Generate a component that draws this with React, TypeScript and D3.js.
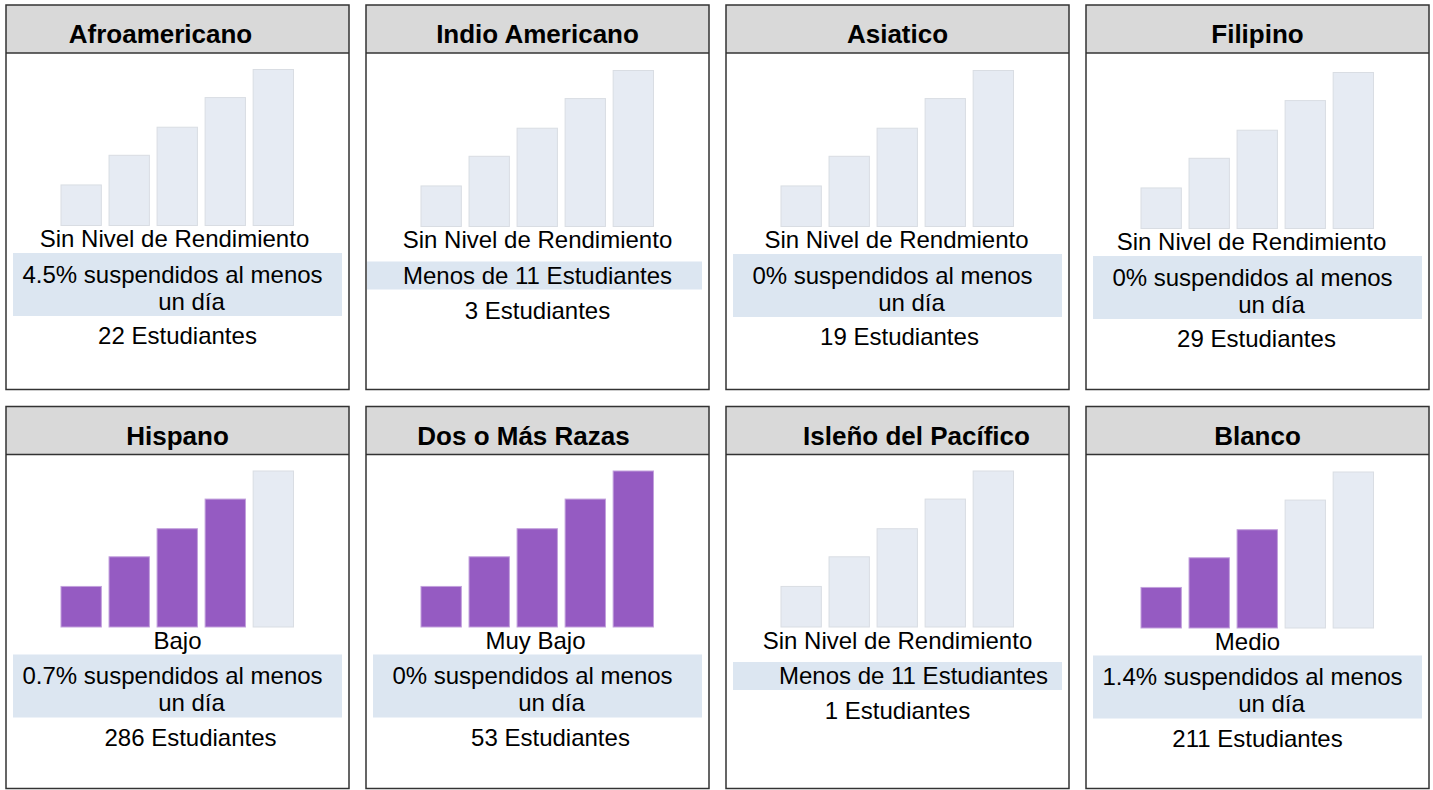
import React from 'react';
import * as d3 from 'd3';

// groups, in reading order (4 per row)
const groups = [
  "Afroamericano",
  "Indio Americano",
  "Asiatico",
  "Filipino",
  "Hispano",
  "Dos o Más Razas",
  "Isleño del Pacífico",
  "Blanco",
];

// the five performance levels drawn as rising bars
const levels = ["Muy Bajo", "Bajo", "Medio", "Alto", "Muy Alto"];
const levelBarHeights = [26, 45, 63, 82, 100];

// how many bars are filled for each group (0 = no level)
const filledBars = [0, 0, 0, 0, 4, 5, 0, 3];
const levelLabels = [
  "Sin Nivel de Rendimiento",
  "Sin Nivel de Rendimiento",
  "Sin Nivel de Rendmiento",
  "Sin Nivel de Rendimiento",
  "Bajo",
  "Muy Bajo",
  "Sin Nivel de Rendimiento",
  "Medio",
];
// null -> fewer than 11 students, no rate shown
const suspendedPct: (string | null)[] = ["4.5%", null, "0%", "0%", "0.7%", "0%", null, "1.4%"];
const studentCounts = [22, 3, 19, 29, 286, 53, 1, 211];

// small per-panel nudges, as in the original layout
const titleShift = [-17, 0, 0, 0, 0, -14, 19, 0];
const levelShift = [-3, 0, -1, -6, 0, -2, 0, -10];
const countShift = [0, 0, 2, -1, 13, 13, 0, 0];
const menosShift = [0, 0, 0, 0, 0, 0, 16, 0];
const bandLeftInset = [7, 1, 7, 7, 7, 7, 7, 7];
const contentDrop = [0, 1, 1, 3, 0, 0, 0, 1];

const FONT = '"Liberation Sans", Arial, Helvetica, sans-serif';
const PANEL_W = 343;
const COL_STEP = 360;
const ROW_TOP = [5, 406.5];
const ROW_H = [384.5, 382];
const HEADER_H = 48;
const PURPLE = "#955bc2";
const LIGHT = "#e6ebf3";
const BAND = "#dce6f1";

const xBar = d3.scaleBand<string>()
  .domain(levels)
  .range([55, 287.5])
  .paddingInner(0.16)
  .paddingOuter(0);

const yBar = d3.scaleLinear().domain([0, 100]).range([0, 156]);
const BAR_BASE = 220.5;

const Panel: React.FC<{ i: number }> = ({ i }) => {
  const col = i % 4;
  const row = Math.floor(i / 4);
  const x0 = 6 + col * COL_STEP;
  const y0 = ROW_TOP[row];
  const h = ROW_H[row];
  const cx = PANEL_W / 2;
  const pct = suspendedPct[i];
  const dy = contentDrop[i];
  const textStyle = { fontFamily: FONT, fontSize: 24, fill: "#000" } as const;

  return (
    <g transform={`translate(${x0},${y0})`}>
      <rect x={0} y={0} width={PANEL_W} height={h} fill="#fff" />
      <rect x={0} y={0} width={PANEL_W} height={HEADER_H} fill="#d9d9d9" />
      <text
        x={cx + titleShift[i]}
        y={38}
        textAnchor="middle"
        style={{ fontFamily: FONT, fontSize: 26, fontWeight: 700 }}
      >
        {groups[i]}
      </text>
      <line x1={0} x2={PANEL_W} y1={HEADER_H} y2={HEADER_H} stroke="#333" strokeWidth={1.5} />

      <g transform={`translate(0,${dy})`}>
        {levels.map((lv, k) => {
          const bh = yBar(levelBarHeights[k]);
          const on = k < filledBars[i];
          return (
            <rect
              key={lv}
              x={xBar(lv)}
              y={BAR_BASE - bh}
              width={xBar.bandwidth()}
              height={bh}
              fill={on ? PURPLE : LIGHT}
              stroke={on ? "#c2a0dc" : "#d9dde3"}
              strokeWidth={1}
            />
          );
        })}

        <text x={cx + levelShift[i]} y={242} textAnchor="middle" style={textStyle}>
          {levelLabels[i]}
        </text>

        {pct !== null ? (
          <>
            <rect x={7} y={248} width={PANEL_W - 14} height={63} fill={BAND} />
            <text x={cx - 5} y={277.5} textAnchor="middle" style={textStyle}>
              {`${pct} suspendidos al menos`}
            </text>
            <text x={cx + 14} y={304.5} textAnchor="middle" style={textStyle}>
              un día
            </text>
            <text x={cx + countShift[i]} y={339} textAnchor="middle" style={textStyle}>
              {`${studentCounts[i]} Estudiantes`}
            </text>
          </>
        ) : (
          <>
            <rect
              x={bandLeftInset[i]}
              y={255.5}
              width={PANEL_W - 7 - bandLeftInset[i]}
              height={28}
              fill={BAND}
            />
            <text x={cx + menosShift[i]} y={277.5} textAnchor="middle" style={textStyle}>
              Menos de 11 Estudiantes
            </text>
            <text x={cx + countShift[i]} y={312.5} textAnchor="middle" style={textStyle}>
              {`${studentCounts[i]} Estudiantes`}
            </text>
          </>
        )}
      </g>

      <rect x={0} y={0} width={PANEL_W} height={h} fill="none" stroke="#333" strokeWidth={1.5} />
    </g>
  );
};

export default function App() {
  return (
    <svg
      width={1433}
      height={790}
      style={{ position: "absolute", left: 0, top: 0, background: "#fff" }}
    >
      {groups.map((g, i) => (
        <Panel key={g} i={i} />
      ))}
    </svg>
  );
}
